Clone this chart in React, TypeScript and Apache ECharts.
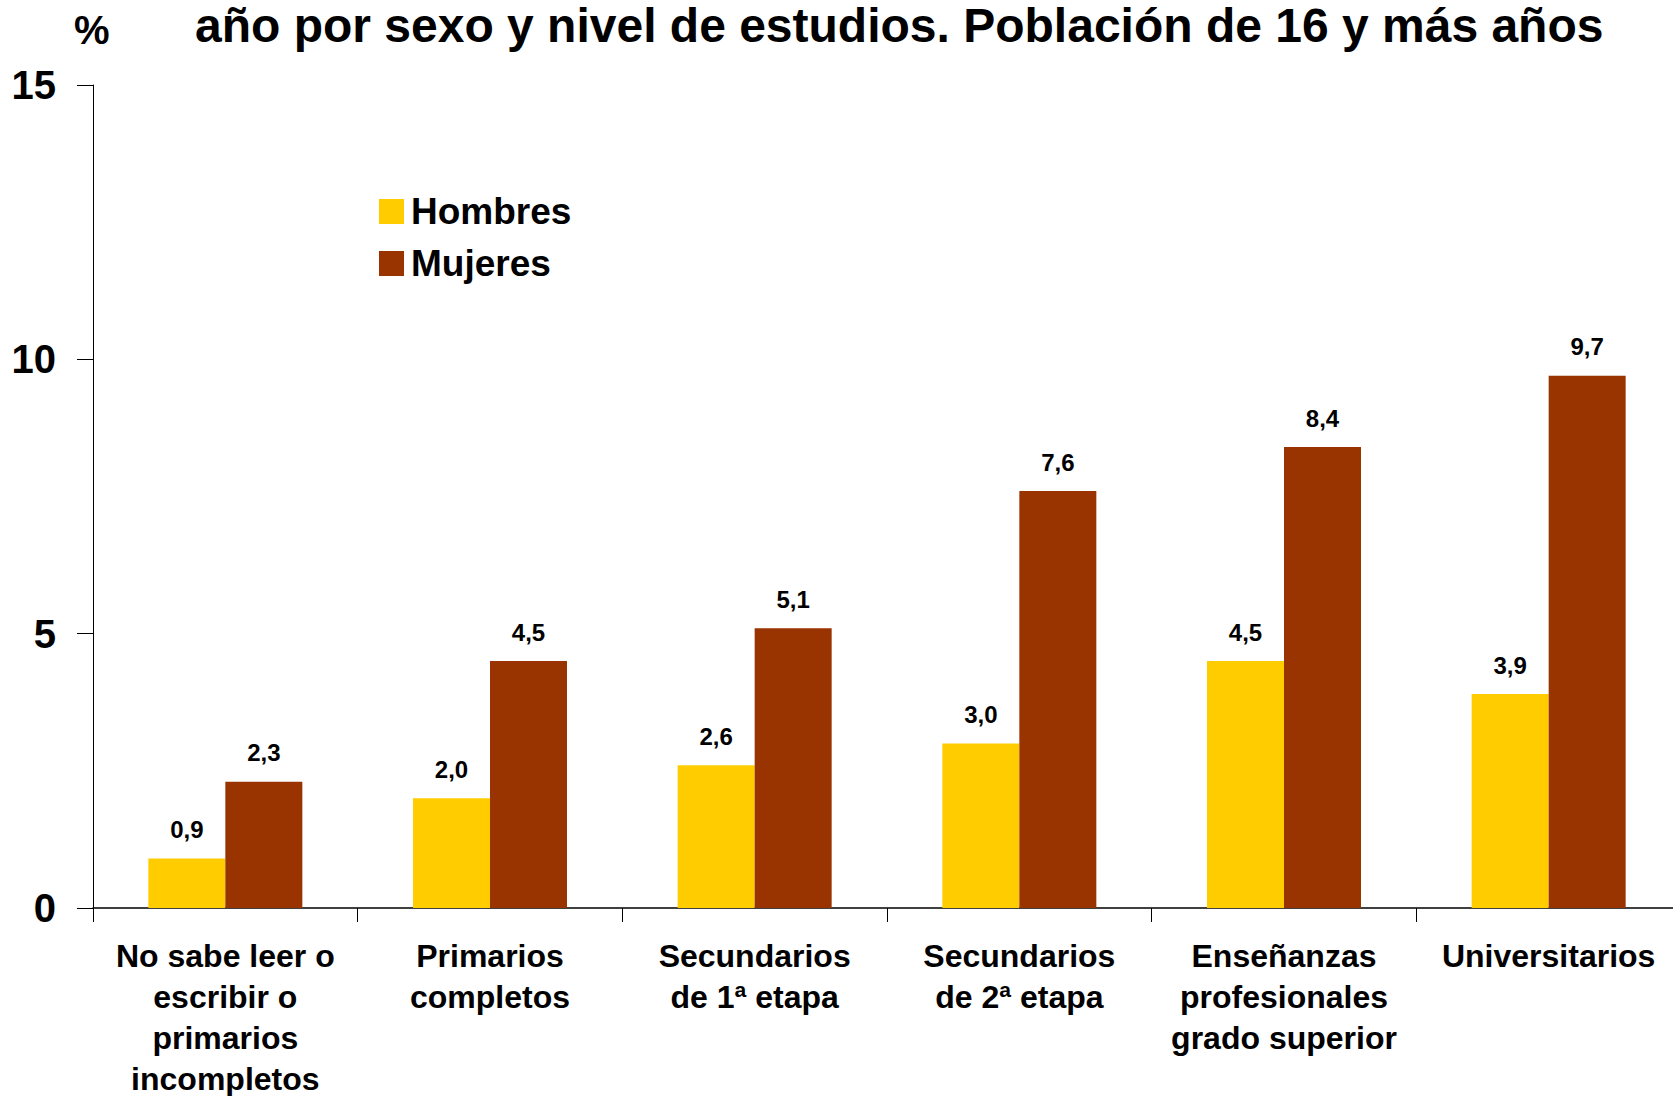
import React, { useEffect, useRef } from "react";
import * as echarts from "echarts";

const categories = [
  "No sabe leer o\nescribir o\nprimarios\nincompletos",
  "Primarios\ncompletos",
  "Secundarios\nde 1ª etapa",
  "Secundarios\nde 2ª etapa",
  "Enseñanzas\nprofesionales\ngrado superior",
  "Universitarios",
];
const hombres = [0.9, 2.0, 2.6, 3.0, 4.5, 3.9];
const mujeres = [2.3, 4.5, 5.1, 7.6, 8.4, 9.7];
const titleText = "año por sexo y nivel de estudios. Población de 16 y más años";
const unitText = "%";

const FONT = "'Liberation Sans', Arial, sans-serif";

export default function App() {
  const ref = useRef<HTMLDivElement>(null);
  useEffect(() => {
    if (!ref.current) return;
    const chart = echarts.init(ref.current, undefined, { renderer: "svg" });
    const labelFmt = (p: any) => Number(p.value).toFixed(1).replace(".", ",");
    const barLabel = {
      show: true,
      position: "top",
      distance: 17,
      formatter: labelFmt,
      fontFamily: FONT,
      fontWeight: "bold",
      fontSize: 24,
      color: "#000",
    };
    chart.setOption({
      animation: false,
      backgroundColor: "#ffffff",
      textStyle: { fontFamily: FONT },
      title: {
        text: titleText,
        left: 190,
        top: -6,
        textStyle: { fontFamily: FONT, fontWeight: "bold", fontSize: 48, color: "#000", lineHeight: 52 },
      },
      graphic: [
        {
          type: "text",
          left: 74,
          top: 10,
          style: { text: unitText, fontFamily: FONT, fontWeight: "bold", fontSize: 40, fill: "#000" },
        },
      ],
      legend: {
        orient: "vertical",
        left: 374,
        top: 188,
        itemWidth: 25,
        itemHeight: 25,
        itemGap: 15,
        icon: "rect",
        textStyle: { fontFamily: FONT, fontWeight: "bold", fontSize: 37, color: "#000", padding: [0, 0, 0, 2] },
        data: ["Hombres", "Mujeres"],
      },
      grid: {
        left: 93,
        top: 85,
        width: 1588,
        bottom: 188,
        containLabel: false,
        outerBoundsMode: "none",
      },
      xAxis: {
        type: "category",
        data: categories,
        axisLine: { lineStyle: { color: "#000", width: 1.5 } },
        axisTick: { show: true, length: 14, alignWithLabel: false, lineStyle: { color: "#000" } },
        axisLabel: {
          interval: 0,
          margin: 27,
          fontFamily: FONT,
          fontWeight: "bold",
          fontSize: 32,
          lineHeight: 41,
          color: "#000",
          align: "center",
          hideOverlap: false,
        },
        splitLine: { show: false },
      },
      yAxis: {
        type: "value",
        min: 0,
        max: 15,
        interval: 5,
        axisLine: { show: true, lineStyle: { color: "#000", width: 1 } },
        axisTick: { show: true, length: 16, inside: false, lineStyle: { color: "#000" } },
        axisLabel: { margin: 37, fontFamily: FONT, fontWeight: "bold", fontSize: 40, color: "#000" },
        splitLine: { show: false },
      },
      series: [
        {
          name: "Hombres",
          type: "bar",
          data: hombres,
          barWidth: 77,
          barGap: "0%",
          itemStyle: { color: "#FFCC00" },
          label: barLabel,
        },
        {
          name: "Mujeres",
          type: "bar",
          data: mujeres,
          barWidth: 77,
          barGap: "0%",
          itemStyle: { color: "#993300" },
          label: barLabel,
        },
      ],
    });
    return () => chart.dispose();
  }, []);
  return (
    <div
      ref={ref}
      style={{ position: "fixed", left: 0, top: 0, width: 1673, height: 1096, background: "#fff" }}
    />
  );
}
